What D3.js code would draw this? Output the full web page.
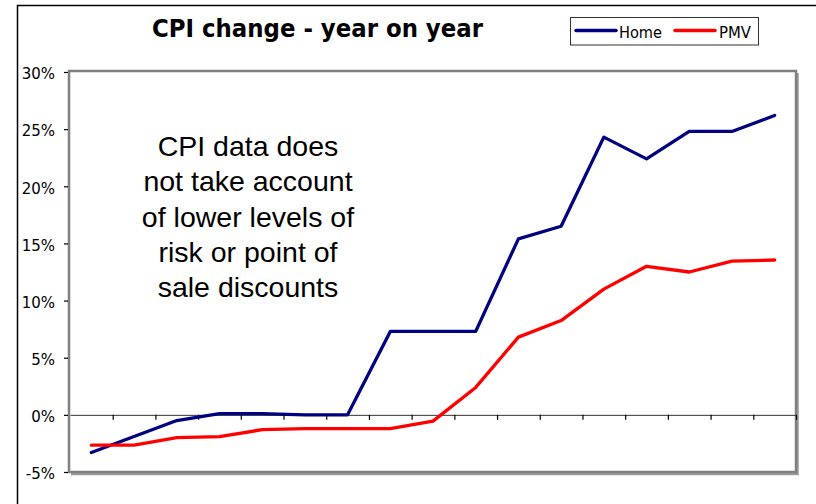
<!DOCTYPE html>
<html>
<head>
<meta charset="utf-8">
<script src="https://cdn.jsdelivr.net/npm/d3@7"></script>
<style>
  html, body { margin: 0; padding: 0; background: #fff; }
  svg { display: block; }
</style>
</head>
<body>
<svg id="chart" width="816" height="504"></svg>
<script>
// ---- data ----
const periods = [1, 2, 3, 4, 5, 6, 7, 8, 9, 10, 11, 12, 13, 14, 15, 16, 17];
const homeValues = [-3.3, -1.9, -0.5, 0.1, 0.1, 0.0, 0.0, 7.3, 7.3, 7.3, 15.4, 16.5, 24.3, 22.4, 24.8, 24.8, 26.2];
const pmvValues = [-2.65, -2.65, -2.0, -1.9, -1.3, -1.2, -1.2, -1.2, -0.55, 2.4, 6.8, 8.25, 11.0, 13.0, 12.5, 13.45, 13.55];
const yTickValues = [-5, 0, 5, 10, 15, 20, 25, 30];
const seriesNames = ["Home", "PMV"];
const seriesColors = ["#000080", "#ff0000"];
const titleText = "CPI change - year on year";
const noteLines = ["CPI data does", "not take account", "of lower levels of", "risk or point of", "sale discounts"];

// ---- layout ----
const svg = d3.select("#chart");
const plotLeft = 69, plotTop = 71, plotRight = 796, plotBottom = 472;

const x = d3.scaleBand().domain(periods).range([plotLeft + 1, plotRight]).paddingInner(0).paddingOuter(0);
const xEdge = d3.scaleLinear().domain([0, periods.length]).range([plotLeft + 1, plotRight]);
const y = d3.scaleLinear().domain([-5, 30]).range([plotBottom, plotTop + 1]);

// outer chart frame (left + top edges visible)
svg.append("path")
  .attr("d", `M17.5,504 L17.5,5.5 L816,5.5`)
  .attr("fill", "none").attr("stroke", "#000").attr("stroke-width", 1.5);

// plot area shadow + border
svg.append("path")
  .attr("d", `M${plotRight + 1.5},${plotTop + 2} L${plotRight + 1.5},${plotBottom + 2} L${plotLeft + 2},${plotBottom + 2}`)
  .attr("fill", "none").attr("stroke", "#9a9a9a").attr("stroke-width", 2.5);
svg.append("rect")
  .attr("x", plotLeft).attr("y", plotTop)
  .attr("width", plotRight - plotLeft).attr("height", plotBottom - plotTop)
  .attr("fill", "#fff").attr("stroke", "#808080").attr("stroke-width", 2.5);

// y axis
const yAxis = svg.append("g")
  .attr("transform", `translate(${plotLeft - 1},0)`)
  .call(d3.axisLeft(y).tickValues(yTickValues).tickFormat(d => d + "%").tickSize(4).tickPadding(9));
yAxis.select(".domain").remove();
yAxis.selectAll(".tick line").attr("stroke", "#000").attr("stroke-width", 1.2);
yAxis.selectAll(".tick text")
  .attr("font-family", "'DejaVu Sans', Verdana, sans-serif")
  .attr("font-size", 15).attr("fill", "#000").attr("dy", "0.45em");

// x axis along 0%
const xAxis = svg.append("g")
  .attr("transform", `translate(0,${y(0)})`)
  .call(d3.axisBottom(xEdge).tickValues(d3.range(1, periods.length + 1)).tickFormat("").tickSize(5).tickSizeOuter(0));
xAxis.select(".domain").attr("stroke", "#333").attr("stroke-width", 1);
xAxis.selectAll(".tick line").attr("stroke", "#000").attr("stroke-width", 1.2);

// lines
const line = d3.line()
  .x((d, i) => x(periods[i]) + x.bandwidth() / 2)
  .y(d => y(d));
[homeValues, pmvValues].forEach((vals, k) => {
  svg.append("path")
    .datum(vals)
    .attr("d", line)
    .attr("fill", "none")
    .attr("stroke", seriesColors[k])
    .attr("stroke-width", 3.3)
    .attr("stroke-linejoin", "round")
    .attr("stroke-linecap", "round");
});

// title
svg.append("text")
  .attr("x", 152).attr("y", 37)
  .attr("font-family", "'DejaVu Sans', Verdana, sans-serif")
  .attr("font-weight", "bold")
  .attr("font-size", 25.5)
  .attr("textLength", 331)
  .attr("lengthAdjust", "spacingAndGlyphs")
  .attr("fill", "#000")
  .text(titleText);

// legend
const legend = svg.append("g");
legend.append("rect")
  .attr("x", 570.5).attr("y", 17.5).attr("width", 188).attr("height", 27.5)
  .attr("fill", "#fff").attr("stroke", "#333").attr("stroke-width", 1);
const legendItems = [{ x0: 576, x1: 616, tx: 619, tl: 43 }, { x0: 675, x1: 715, tx: 719, tl: 32 }];
seriesNames.forEach((name, k) => {
  const it = legendItems[k];
  legend.append("line")
    .attr("x1", it.x0).attr("x2", it.x1).attr("y1", 30.5).attr("y2", 30.5)
    .attr("stroke", seriesColors[k]).attr("stroke-width", 3.5).attr("stroke-linecap", "round");
  legend.append("text")
    .attr("x", it.tx).attr("y", 38)
    .attr("font-family", "'DejaVu Sans', Verdana, sans-serif")
    .attr("font-size", 16.5)
    .attr("textLength", it.tl)
    .attr("lengthAdjust", "spacingAndGlyphs")
    .attr("fill", "#000")
    .text(name);
});

// annotation
const note = svg.append("text")
  .attr("x", 248).attr("y", 156)
  .attr("text-anchor", "middle")
  .attr("font-family", "'Liberation Sans', Arial, sans-serif")
  .attr("font-size", 28.5)
  .attr("fill", "#000");
noteLines.forEach((t, i) => {
  note.append("tspan").attr("x", 248).attr("y", 156 + i * 35.3).text(t);
});
</script>
</body>
</html>
